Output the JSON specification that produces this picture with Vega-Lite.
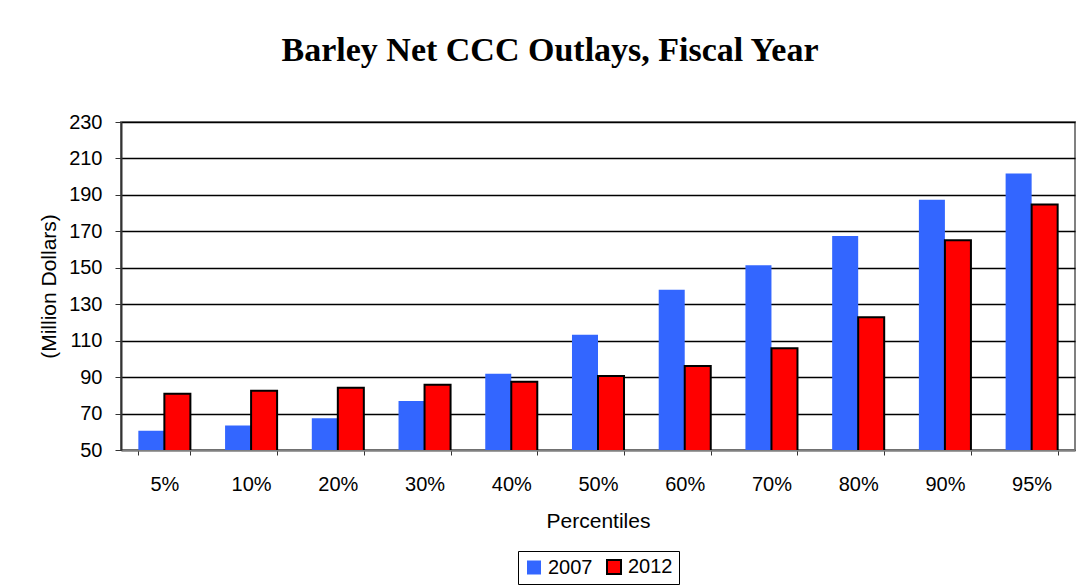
{
  "$schema": "https://vega.github.io/schema/vega-lite/v6.json",
  "autosize": {"type": "none"},
  "width": 954,
  "height": 328,
  "padding": {"left": 121, "top": 122, "right": 11, "bottom": 138},
  "background": "white",
  "title": {
    "text": "Barley Net CCC Outlays, Fiscal Year",
    "font": "Liberation Serif",
    "fontSize": 34,
    "fontWeight": "bold",
    "color": "black",
    "anchor": "middle",
    "frame": "group",
    "dx": -48,
    "offset": 44
  },
  "data": {
    "values": [
      {"p": "5%", "year": "2007", "v": 60.6},
      {"p": "5%", "year": "2012", "v": 80.9},
      {"p": "10%", "year": "2007", "v": 63.5},
      {"p": "10%", "year": "2012", "v": 82.5},
      {"p": "20%", "year": "2007", "v": 67.4},
      {"p": "20%", "year": "2012", "v": 84.2},
      {"p": "30%", "year": "2007", "v": 76.9},
      {"p": "30%", "year": "2012", "v": 85.8},
      {"p": "40%", "year": "2007", "v": 91.8},
      {"p": "40%", "year": "2012", "v": 87.5},
      {"p": "50%", "year": "2007", "v": 113.2},
      {"p": "50%", "year": "2012", "v": 90.6},
      {"p": "60%", "year": "2007", "v": 137.9},
      {"p": "60%", "year": "2012", "v": 96.1},
      {"p": "70%", "year": "2007", "v": 151.4},
      {"p": "70%", "year": "2012", "v": 105.9},
      {"p": "80%", "year": "2007", "v": 167.5},
      {"p": "80%", "year": "2012", "v": 122.9},
      {"p": "90%", "year": "2007", "v": 187.4},
      {"p": "90%", "year": "2012", "v": 165.1},
      {"p": "95%", "year": "2007", "v": 201.7},
      {"p": "95%", "year": "2012", "v": 184.7}
    ]
  },
  "mark": {"type": "bar", "clip": true},
  "encoding": {
    "x": {
      "field": "p",
      "type": "nominal",
      "sort": null,
      "scale": {"paddingInner": 0.4, "paddingOuter": 0.2},
      "axis": {
        "title": "Percentiles",
        "titleFont": "Arial",
        "titleFontSize": 21,
        "titleFontWeight": "normal",
        "titleColor": "black",
        "titlePadding": 16,
        "labelFont": "Arial",
        "labelFontSize": 20,
        "labelColor": "black",
        "labelAngle": 0,
        "labelPadding": 19,
        "tickBand": "extent",
        "tickSize": 5,
        "tickColor": "#333333",
        "domainColor": "#808080",
        "domainWidth": 2
      }
    },
    "xOffset": {"field": "year", "type": "nominal"},
    "y": {
      "field": "v",
      "type": "quantitative",
      "scale": {"domain": [50, 230], "zero": false, "nice": false},
      "axis": {
        "title": "(Million Dollars)",
        "titleFont": "Arial",
        "titleFontSize": 21,
        "titleFontWeight": "normal",
        "titleColor": "black",
        "titlePadding": 9,
        "values": [50, 70, 90, 110, 130, 150, 170, 190, 210, 230],
        "labelFont": "Arial",
        "labelFontSize": 20,
        "labelColor": "black",
        "labelPadding": 13,
        "tickSize": 6,
        "tickColor": "#333333",
        "domainColor": "#333333",
        "domainWidth": 2,
        "grid": true,
        "gridColor": "black",
        "gridWidth": 1.5
      }
    },
    "color": {
      "field": "year",
      "type": "nominal",
      "scale": {"domain": ["2007", "2012"], "range": ["#3366FF", "#FF0000"]},
      "legend": {
        "title": null,
        "orient": "bottom",
        "direction": "horizontal",
        "labelFont": "Arial",
        "labelFontSize": 20,
        "labelColor": "black",
        "labelOffset": 4,
        "symbolType": "square",
        "symbolSize": 196,
        "symbolStrokeWidth": 1.5,
        "strokeColor": "black",
        "padding": 6,
        "offset": 20,
        "columnPadding": 10
      }
    },
    "stroke": {
      "field": "year",
      "type": "nominal",
      "scale": {"domain": ["2007", "2012"], "range": ["#3366FF", "black"]}
    },
    "strokeWidth": {
      "field": "year",
      "type": "nominal",
      "scale": {"domain": ["2007", "2012"], "range": [0, 2]},
      "legend": null
    }
  },
  "config": {
    "view": {"stroke": "#808080", "strokeWidth": 2},
    "legend": {"layout": {"anchor": "middle"}}
  }
}
